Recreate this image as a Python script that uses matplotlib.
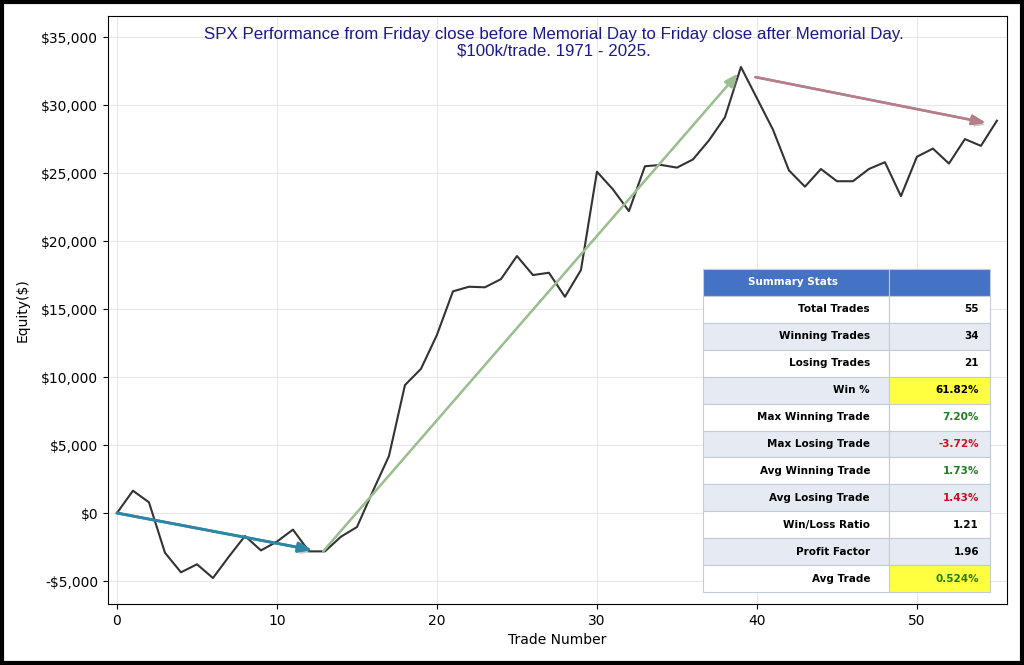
import matplotlib
matplotlib.use("Agg")
import matplotlib.pyplot as plt
import matplotlib.patheffects as pe
from matplotlib.patches import Rectangle
from matplotlib.ticker import FuncFormatter

# ---- data ----
trade_number = list(range(0, 56))
equity = [0, 1640, 790, -2920, -4360, -3770, -4780, -3200, -1690, -2750,
          -2100, -1220, -2820, -2820, -1740, -1030, 1620, 4190, 9410, 10600,
          13100, 16300, 16640, 16600, 17200, 18900, 17500, 17670, 15900, 17870,
          25100, 23800, 22200, 25500, 25600, 25400, 26000, 27400, 29100, 32800,
          30500, 28200, 25200, 24000, 25300, 24400, 24400, 25300, 25800, 23300,
          26200, 26800, 25700, 27500, 27000, 28850]

arrow_blue = ((0.0, 0), (12.2, -2720))
arrow_green = ((12.9, -2800), (38.8, 32300))
arrow_red = ((39.9, 32060), (54.3, 28700))

title_text = ("SPX Performance from Friday close before Memorial Day to Friday close after Memorial Day.\n"
              "$100k/trade. 1971 - 2025.")

stat_labels = ["Total Trades", "Winning Trades", "Losing Trades", "Win %",
               "Max Winning Trade", "Max Losing Trade", "Avg Winning Trade",
               "Avg Losing Trade", "Win/Loss Ratio", "Profit Factor", "Avg Trade"]
stat_values = ["55", "34", "21", "61.82%", "7.20%", "-3.72%", "1.73%",
               "1.43%", "1.21", "1.96", "0.524%"]
value_colors = ["black", "black", "black", "black", "#1e7b1e", "#cc1020",
                "#1e7b1e", "#cc1020", "black", "black", "#1e7b1e"]
highlight_rows = [3, 10]

# ---- figure ----
fig = plt.figure(figsize=(10.24, 6.65), dpi=100)
ax = fig.add_axes([108 / 1024, 1 - 604 / 665, 899 / 1024, 588 / 665])

ax.plot(trade_number, equity, color="#333333", lw=1.5, zorder=3)

ax.set_xlim(-0.56, 55.63)
ax.set_ylim(-6690, 36550)
ax.set_yticks(range(-5000, 35001, 5000))
ax.set_xticks(range(0, 51, 10))
ax.yaxis.set_major_formatter(FuncFormatter(lambda v, p: ("-$%s" % format(int(-v), ",")) if v < 0 else "$%s" % format(int(v), ",")))
ax.tick_params(labelsize=10)
ax.grid(True, color="#e8e8e8", lw=0.8)
ax.set_axisbelow(True)
ax.set_xlabel("Trade Number", fontsize=10)
ax.set_ylabel("Equity($)", fontsize=10, labelpad=8)

shadow = [pe.withSimplePatchShadow(offset=(2, -2), shadow_rgbFace="#888888", alpha=0.45), pe.Normal()]

def arrow(pts, color, lw):
    (x0, y0), (x1, y1) = pts
    ax.annotate("", xy=(x1, y1), xytext=(x0, y0),
                arrowprops=dict(arrowstyle="-|>,head_length=0.8,head_width=0.3", color=color, lw=lw,
                                shrinkA=0, shrinkB=0, path_effects=shadow), zorder=4)

arrow(arrow_blue, "#2e86a5", 2.0)
arrow(arrow_green, "#9cbf90", 1.6)
arrow(arrow_red, "#b47f88", 1.8)

fig.text(554 / 1024, 1 - 27 / 665, title_text, ha="center", va="top",
         fontsize=12.2, color="#1a1a8c", family="Liberation Sans", linespacing=1.15)

# ---- table ----
tx0, tx1, tsplit = 703, 990, 889
ty0, ty1 = 269, 592
nrows = len(stat_labels) + 1
rh = (ty1 - ty0) / nrows
edge = "#c3cad8"

def fx(px):
    return px / 1024

def fy(py):
    return 1 - py / 665

def cell(x0, x1, r, color):
    y_top = ty0 + r * rh
    fig.patches.append(Rectangle((fx(x0), fy(y_top + rh)), fx(x1) - fx(x0), fy(y_top) - fy(y_top + rh),
                                 transform=fig.transFigure, facecolor=color, edgecolor=edge, lw=0.8, zorder=5))

cell(tx0, tsplit, 0, "#4472c4")
cell(tsplit, tx1, 0, "#4472c4")
fig.text(fx((tx0 + tsplit) / 2 - 3), fy(ty0 + rh / 2), "Summary Stats", color="white", fontsize=7.5,
         fontweight="bold", ha="center", va="center", zorder=6)
for i, (lab, val, vc) in enumerate(zip(stat_labels, stat_values, value_colors)):
    r = i + 1
    bg = "white" if i % 2 == 0 else "#e6ebf3"
    cell(tx0, tsplit, r, bg)
    cell(tsplit, tx1, r, "#ffff40" if i in highlight_rows else bg)
    yc = fy(ty0 + r * rh + rh / 2)
    fig.text(fx(tsplit - 19), yc, lab, fontsize=7.5, fontweight="bold", ha="right", va="center", zorder=6)
    fig.text(fx(tx1 - 11), yc, val, fontsize=7.5, fontweight="bold", ha="right", va="center", color=vc, zorder=6)

# figure border
fig.patches.append(Rectangle((0.002, 0.003), 0.996, 0.994, transform=fig.transFigure,
                             facecolor="none", edgecolor="black", lw=3, zorder=10))

fig.savefig("out.png", dpi=100)
